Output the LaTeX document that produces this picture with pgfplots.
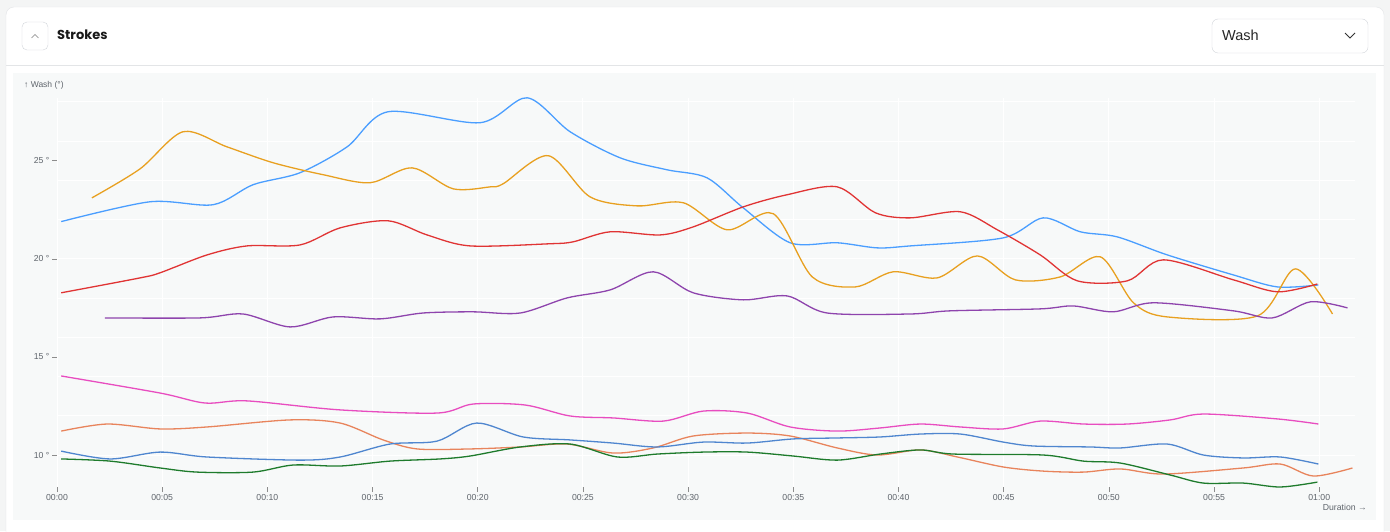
\documentclass[border=0pt]{standalone}
\usepackage{fontspec}
\setmainfont{Liberation Sans}
\newfontfamily\headfont{Poppins}
\usepackage{pgfplots}
\pgfplotsset{compat=1.18}
\definecolor{pagebg}{HTML}{F4F5F5}
\definecolor{cardborder}{HTML}{E3E5E7}
\definecolor{panelbg}{HTML}{F7F9F9}
\definecolor{btnborder}{HTML}{D3D6DB}
\definecolor{txtgray}{HTML}{5F656C}
\definecolor{sBlue}{HTML}{4A9EFF}
\definecolor{sOrange}{HTML}{E8A020}
\definecolor{sRed}{HTML}{E03434}
\definecolor{sPurple}{HTML}{8E44AD}
\definecolor{sPink}{HTML}{E84DC0}
\definecolor{sSalmon}{HTML}{E8845C}
\definecolor{sSteel}{HTML}{4F86CF}
\definecolor{sGreen}{HTML}{1E7B2C}
\begin{document}
\begin{tikzpicture}[x=1pt,y=1pt]
\path[use as bounding box] (0,0) rectangle (1390,531);
\fill[pagebg] (0,0) rectangle (1390,531);
\filldraw[fill=white, draw=cardborder, rounded corners=8] (6,-20) rectangle (1384,524);
\draw[cardborder] (6,466) -- (1384,466);
\fill[panelbg] (13,11) rectangle (1376,458);
% header
\filldraw[fill=white, draw=btnborder, rounded corners=5] (22,481) rectangle (48,509);
\draw[gray, line width=0.7] (31.5,493) -- (35,496.5) -- (38.5,493);
\node[anchor=west, inner sep=0, font=\headfont\bfseries\fontsize{13}{15}\selectfont, text=black!90] at (57,496) {Strokes};
\filldraw[fill=white, draw=btnborder, rounded corners=6] (1212,478) rectangle (1368,512);
\node[anchor=west, inner sep=0, font=\fontsize{14.5}{17}\selectfont, text=black!85] at (1222,496) {Wash};
\draw[black!80, line width=0.8] (1345,498) -- (1350,493) -- (1355,498);
% axis texts
\node[anchor=west, inner sep=0, font=\fontsize{8.5}{10}\selectfont, text=txtgray] at (24,446) {↑ Wash (°)};
\node[anchor=east, inner sep=0, font=\fontsize{8.7}{10}\selectfont, text=txtgray] at (1367,24) {Duration →};
\begin{axis}[
  at={(57pt,44pt)}, anchor=south west,
  scale only axis, width=1298pt, height=389pt,
  xmin=0, xmax=61.7, ymin=8.37, ymax=28.2,
  axis line style={draw=none},
  xtick={0,5,...,60},
  xticklabels={00:00,00:05,00:10,00:15,00:20,00:25,00:30,00:35,00:40,00:45,00:50,00:55,01:00},
  ytick={10,15,20,25},
  yticklabels={10 °,15 °,20 °,25 °},
  minor ytick={10,12,...,28},
  xmajorgrids, yminorgrids,
  major grid style={white, line width=1pt},
  minor grid style={white, line width=1pt},
  minor tick length=0pt,
  major tick length=5pt,
  tick align=outside,
  xtick pos=bottom, ytick pos=left,
  tick style={black!45, line width=0.6pt},
  ticklabel style={font=\fontsize{8.7}{10}\selectfont, text=txtgray},
  xticklabel style={yshift=1pt},
  yticklabel style={xshift=1pt},
  every axis plot/.append style={smooth, tension=0.5, line width=1.3pt, no markers},
  clip=false,
]
% blue
\addplot[sBlue] coordinates {(0.2,21.9)(4.42,22.91)(7.42,22.76)(9.32,23.78)(11.55,24.39)(13.79,25.71)(15.74,27.5)(20.11,26.94)(22.35,28.21)(24.39,26.48)(26.77,25.15)(29.0,24.54)(30.9,24.13)(32.62,22.6)(34.85,20.82)(37.09,20.82)(38.99,20.56)(40.56,20.66)(44.98,21.07)(46.88,22.09)(48.64,21.38)(50.40,21.12)(52.78,20.2)(55.92,19.18)(58.01,18.57)(59.96,18.67)};
% orange
\addplot[sOrange] coordinates {(1.66,23.11)(3.95,24.59)(5.99,26.48)(8.08,25.71)(10.27,24.9)(12.65,24.29)(14.88,23.88)(16.88,24.64)(18.83,23.57)(20.59,23.67)(21.21,23.83)(23.35,25.26)(25.34,23.16)(27.58,22.7)(29.77,22.86)(31.86,21.48)(34.05,22.3)(35.9,19.08)(37.95,18.57)(39.75,19.34)(41.84,19.03)(43.75,20.15)(45.55,18.93)(47.69,19.08)(49.6,20.1)(51.17,17.76)(52.78,17.04)(57.06,17.09)(58.87,19.49)(60.63,17.19)};
% red
\addplot[sRed] coordinates {(0.2,18.27)(3.95,19.03)(4.9,19.29)(7.13,20.2)(9.03,20.66)(11.55,20.71)(13.46,21.58)(15.74,21.94)(17.59,21.22)(19.64,20.66)(23.44,20.77)(24.54,20.87)(26.3,21.38)(28.67,21.22)(30.24,21.63)(32.62,22.65)(34.71,23.27)(37.09,23.67)(38.9,22.35)(40.56,22.09)(42.94,22.4)(44.7,21.48)(46.74,20.2)(48.5,18.88)(50.88,18.88)(52.59,19.95)(55.92,18.93)(58.01,18.32)(59.91,18.72)};
% purple
\addplot[sPurple] coordinates {(2.28,16.99)(6.8,16.99)(8.84,17.19)(11.08,16.53)(13.12,17.04)(15.36,16.94)(17.4,17.24)(19.78,17.3)(22.02,17.24)(24.25,18.01)(26.3,18.42)(28.34,19.34)(30.24,18.27)(32.62,17.91)(34.71,18.11)(36.61,17.24)(40.56,17.19)(42.46,17.35)(46.74,17.45)(48.31,17.6)(50.21,17.3)(52.12,17.76)(55.92,17.35)(57.77,16.99)(59.58,17.81)(61.34,17.5)};
% pink
\addplot[sPink] coordinates {(0.2,14.03)(4.9,13.16)(7.04,12.65)(9.03,12.76)(13.46,12.30)(18.07,12.14)(19.78,12.60)(22.25,12.55)(24.39,11.99)(26.44,11.89)(28.82,11.73)(30.72,12.24)(32.81,12.14)(34.85,11.43)(37.09,11.22)(39.13,11.38)(41.04,11.58)(42.94,11.43)(44.98,11.33)(46.74,11.73)(48.79,11.58)(50.88,11.58)(52.92,11.79)(54.49,12.09)(58.01,11.84)(59.96,11.58)};
% salmon
\addplot[sSalmon] coordinates {(0.2,11.22)(2.38,11.58)(4.9,11.33)(7.13,11.43)(11.08,11.79)(13.46,11.63)(15.5,10.77)(17.12,10.31)(19.64,10.31)(22.02,10.41)(24.25,10.56)(26.44,10.1)(28.34,10.36)(30.24,10.97)(32.81,11.12)(34.85,10.97)(37.09,10.36)(38.99,10.0)(41.04,10.26)(42.8,9.9)(44.98,9.39)(46.88,9.18)(48.79,9.13)(50.55,9.29)(52.59,9.03)(56.39,9.34)(58.15,9.54)(59.72,8.93)(61.58,9.34)};
% steel blue
\addplot[sSteel] coordinates {(0.2,10.2)(2.52,9.8)(4.9,10.15)(7.13,9.9)(11.55,9.74)(13.46,9.9)(15.83,10.56)(18.07,10.71)(19.95,11.63)(22.16,10.92)(24.39,10.77)(26.44,10.61)(28.53,10.41)(30.72,10.66)(32.81,10.61)(34.99,10.82)(37.09,10.87)(39.13,10.92)(41.04,11.07)(42.94,11.07)(44.98,10.66)(46.41,10.46)(49.12,10.41)(50.55,10.36)(52.78,10.56)(54.49,10.0)(56.39,9.85)(58.15,9.9)(59.96,9.54)};
% green
\addplot[sGreen] coordinates {(0.2,9.8)(2.52,9.69)(4.9,9.34)(6.66,9.13)(9.32,9.13)(11.22,9.49)(13.46,9.44)(15.83,9.69)(18.21,9.8)(19.64,9.95)(22.02,10.41)(24.39,10.56)(26.63,9.9)(28.53,10.05)(30.72,10.15)(32.81,10.15)(34.99,9.95)(37.09,9.74)(39.13,10.05)(41.04,10.26)(42.61,10.05)(46.88,10.0)(48.79,9.69)(50.55,9.59)(52.92,8.98)(54.49,8.57)(56.39,8.57)(58.15,8.37)(59.91,8.62)};
\end{axis}
\end{tikzpicture}
\end{document}
